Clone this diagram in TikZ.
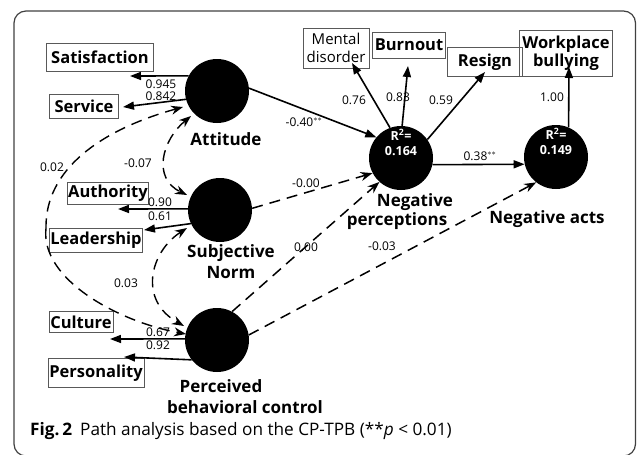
\documentclass[tikz,border=0pt]{standalone}
\usepackage{fontspec}
\setmainfont{Open Sans}
\usetikzlibrary{arrows.meta,calc}
\tikzset{
  lat/.style={circle,fill=black,minimum size=64pt,inner sep=0pt},
  obs/.style={draw=black!65,line width=0.7pt,inner sep=1pt,font=\fontsize{16.5}{17}\selectfont\bfseries},
  obsn/.style={draw=black!65,line width=0.7pt,inner sep=1pt,font=\fontsize{15}{18}\selectfont,align=center},
  lbl/.style={font=\fontsize{17}{19}\selectfont\bfseries,inner sep=0pt},
  num/.style={font=\fontsize{12}{12}\selectfont,inner sep=0pt},
  rsq/.style={font=\fontsize{12.5}{12}\selectfont\bfseries,text=white,inner sep=0pt},
  solidarr/.style={line width=1.6pt,-{Triangle[length=11pt,width=8pt]}},
  dasharr/.style={line width=1.5pt,dash pattern=on 11pt off 7pt,-{Stealth[length=12pt,width=9pt]}},
  covarr/.style={line width=1.4pt,dash pattern=on 11pt off 7pt,{Stealth[length=12pt,width=9pt]}-{Stealth[length=12pt,width=9pt]}},
}
\begin{document}
\begin{tikzpicture}[x=1pt,y=-1pt]
\useasboundingbox (0,0) rectangle (637,455);
\begin{scope}
\clip (0,0) rectangle (637,455);
\draw[black!75,line width=1.2pt,rounded corners=12pt] (14,11) rectangle (635.5,456);
\end{scope}

% latent variables
\node[lat] (att) at (217,91) {};
\node[lat] (sn)  at (220,210) {};
\node[lat] (pbc) at (217,340) {};
\node[lat] (np)  at (401,158) {};
\node[lat] (na)  at (556,157) {};

\node[rsq] (npr) at (401,135) {R$^{\mathbf 2}$=};
\node[rsq] (npv) at (401,151) {0.164};
\node[rsq] (nar) at (556,134) {R$^{\mathbf 2}$=};
\node[rsq] (nav) at (556,150) {0.149};

\node[lbl] (attl) at (226,139) {Attitude};
\node[lbl] (snl1) at (231,253) {Subjective};
\node[lbl] (snl2) at (231,273) {Norm};
\node[lbl] (pbl1) at (221,386) {Perceived};
\node[lbl] (pbl2) at (245,407) {behavioral control};
\node[lbl] (npl1) at (415,202) {Negative};
\node[lbl] (npl2) at (397,221) {perceptions};
\node[lbl] (nal)  at (547,219) {Negative acts};

% observed variables
\node[obs,minimum width=107pt,minimum height=28pt] (sat) at (100,57) {Satisfaction};
\node[obs,minimum width=69pt,minimum height=24pt] (svc) at (84,106) {Service};
\node[obs,minimum width=80pt,minimum height=22pt] (aut) at (108,193) {Authority};
\node[obs,minimum width=93pt,minimum height=24pt] (lead) at (96,240) {Leadership};
\node[obs,minimum width=64pt,minimum height=21pt] (cul) at (81,322) {Culture};
\node[obs,minimum width=96pt,minimum height=29pt] (pers) at (96,373) {Personality};
\node[obsn,minimum width=66pt,minimum height=40pt] (ment) at (336,48) {Mental\\disorder};
\node[obs,minimum width=73pt,minimum height=26pt] (burn) at (409,45) {Burnout};
\node[obs,minimum width=75pt,minimum height=29pt] (res) at (485,62) {Resign};
\node[obs,minimum width=93pt,minimum height=46pt,align=center,font=\fontsize{16.5}{18}\selectfont\bfseries] (wb) at (566,53) {Workplace\\bullying};

% free ends of measurement arrows
\coordinate (satT) at (130,76);
\coordinate (svcT) at (123,107);
\coordinate (autT) at (118,209);
\coordinate (leadT) at (144,230);
\coordinate (culT) at (110,339);
\coordinate (persT) at (124,357);
\coordinate (mentT) at (352,63);
\coordinate (burnT) at (408,66);
\coordinate (resT) at (485,72);
\coordinate (wbT) at (569,67);

\draw[solidarr] (att.152) -- (satT);
\draw[solidarr] (att.195) -- (svcT);
\draw[solidarr] (sn.178) -- (autT);
\draw[solidarr] (sn.205) -- (leadT);
\draw[solidarr] (pbc.178) -- (culT);
\draw[solidarr] (pbc.218) -- (persT);
\draw[solidarr] (np.110) -- (mentT);
\draw[solidarr] (np.88) -- (burnT);
\draw[solidarr] (np.35) -- (resT);
\draw[solidarr] (na.67) -- (wbT);

\node[num] (n1) at (161,84) {0.945};
\node[num] (n2) at (161,96) {0.842};
\node[num] (n3) at (160,202) {0.90};
\node[num] (n4) at (160,216) {0.61};
\node[num] (n5) at (158,332) {0.67};
\node[num] (n6) at (158,345) {0.92};
\node[num] (n7) at (354,100) {0.76};
\node[num] (n8) at (398,97) {0.83};
\node[num] (n9) at (441,100) {0.59};
\node[num] (n10) at (552,97) {1.00};

% structural paths
\draw[solidarr] (att.5) -- (np.140);
\draw[solidarr] (np.348) -- (na.193);
\draw[dasharr] (sn.3) -- (np.208);
\draw[dasharr] (pbc.62) -- (np.228);
\draw[dasharr] (pbc.9) -- (na.232);

\node[num] (p1) at (304,122) {-0.40$^{**}$};
\node[num] (p2) at (306,183) {-0.00};
\node[num] (p3) at (306,247) {0.00};
\node[num] (p4) at (382,246) {-0.03};
\node[num] (p5) at (480,156) {0.38$^{**}$};

% covariances
\coordinate (attA) at (191,116);
\coordinate (snA) at (187,195);
\coordinate (snB) at (187,228);
\coordinate (pbcA) at (184,326);
\coordinate (attB) at (183,107);
\coordinate (pbcB) at (186,334);
\coordinate (bend) at (46,228);
\draw[covarr] (attA) .. controls (162,140) and (152,178) .. (snA);
\draw[covarr] (snB) .. controls (150,252) and (138,300) .. (pbcA);
\draw[line width=1.4pt,dash pattern=on 11pt off 7pt,{Stealth[length=12pt,width=9pt]}-] (attB) .. controls (100,130) and (45,170) .. (bend);
\draw[line width=1.4pt,dash pattern=on 11pt off 7pt,-{Stealth[length=12pt,width=9pt]}] (bend) .. controls (40,280) and (120,322) .. (pbcB);

\node[num] (c1) at (138,163) {-0.07};
\node[num] (c2) at (126,283) {0.03};
\node[num] (c3) at (52,167) {0.02};

% caption
\node[anchor=base west,inner sep=0pt,font=\fontsize{17.2}{18}\selectfont] (cap) at (30,435) {\textbf{Fig.\,2}\hspace{8pt}Path analysis based on the CP-TPB (**\textit{p} < 0.01)};
\end{tikzpicture}
\end{document}
